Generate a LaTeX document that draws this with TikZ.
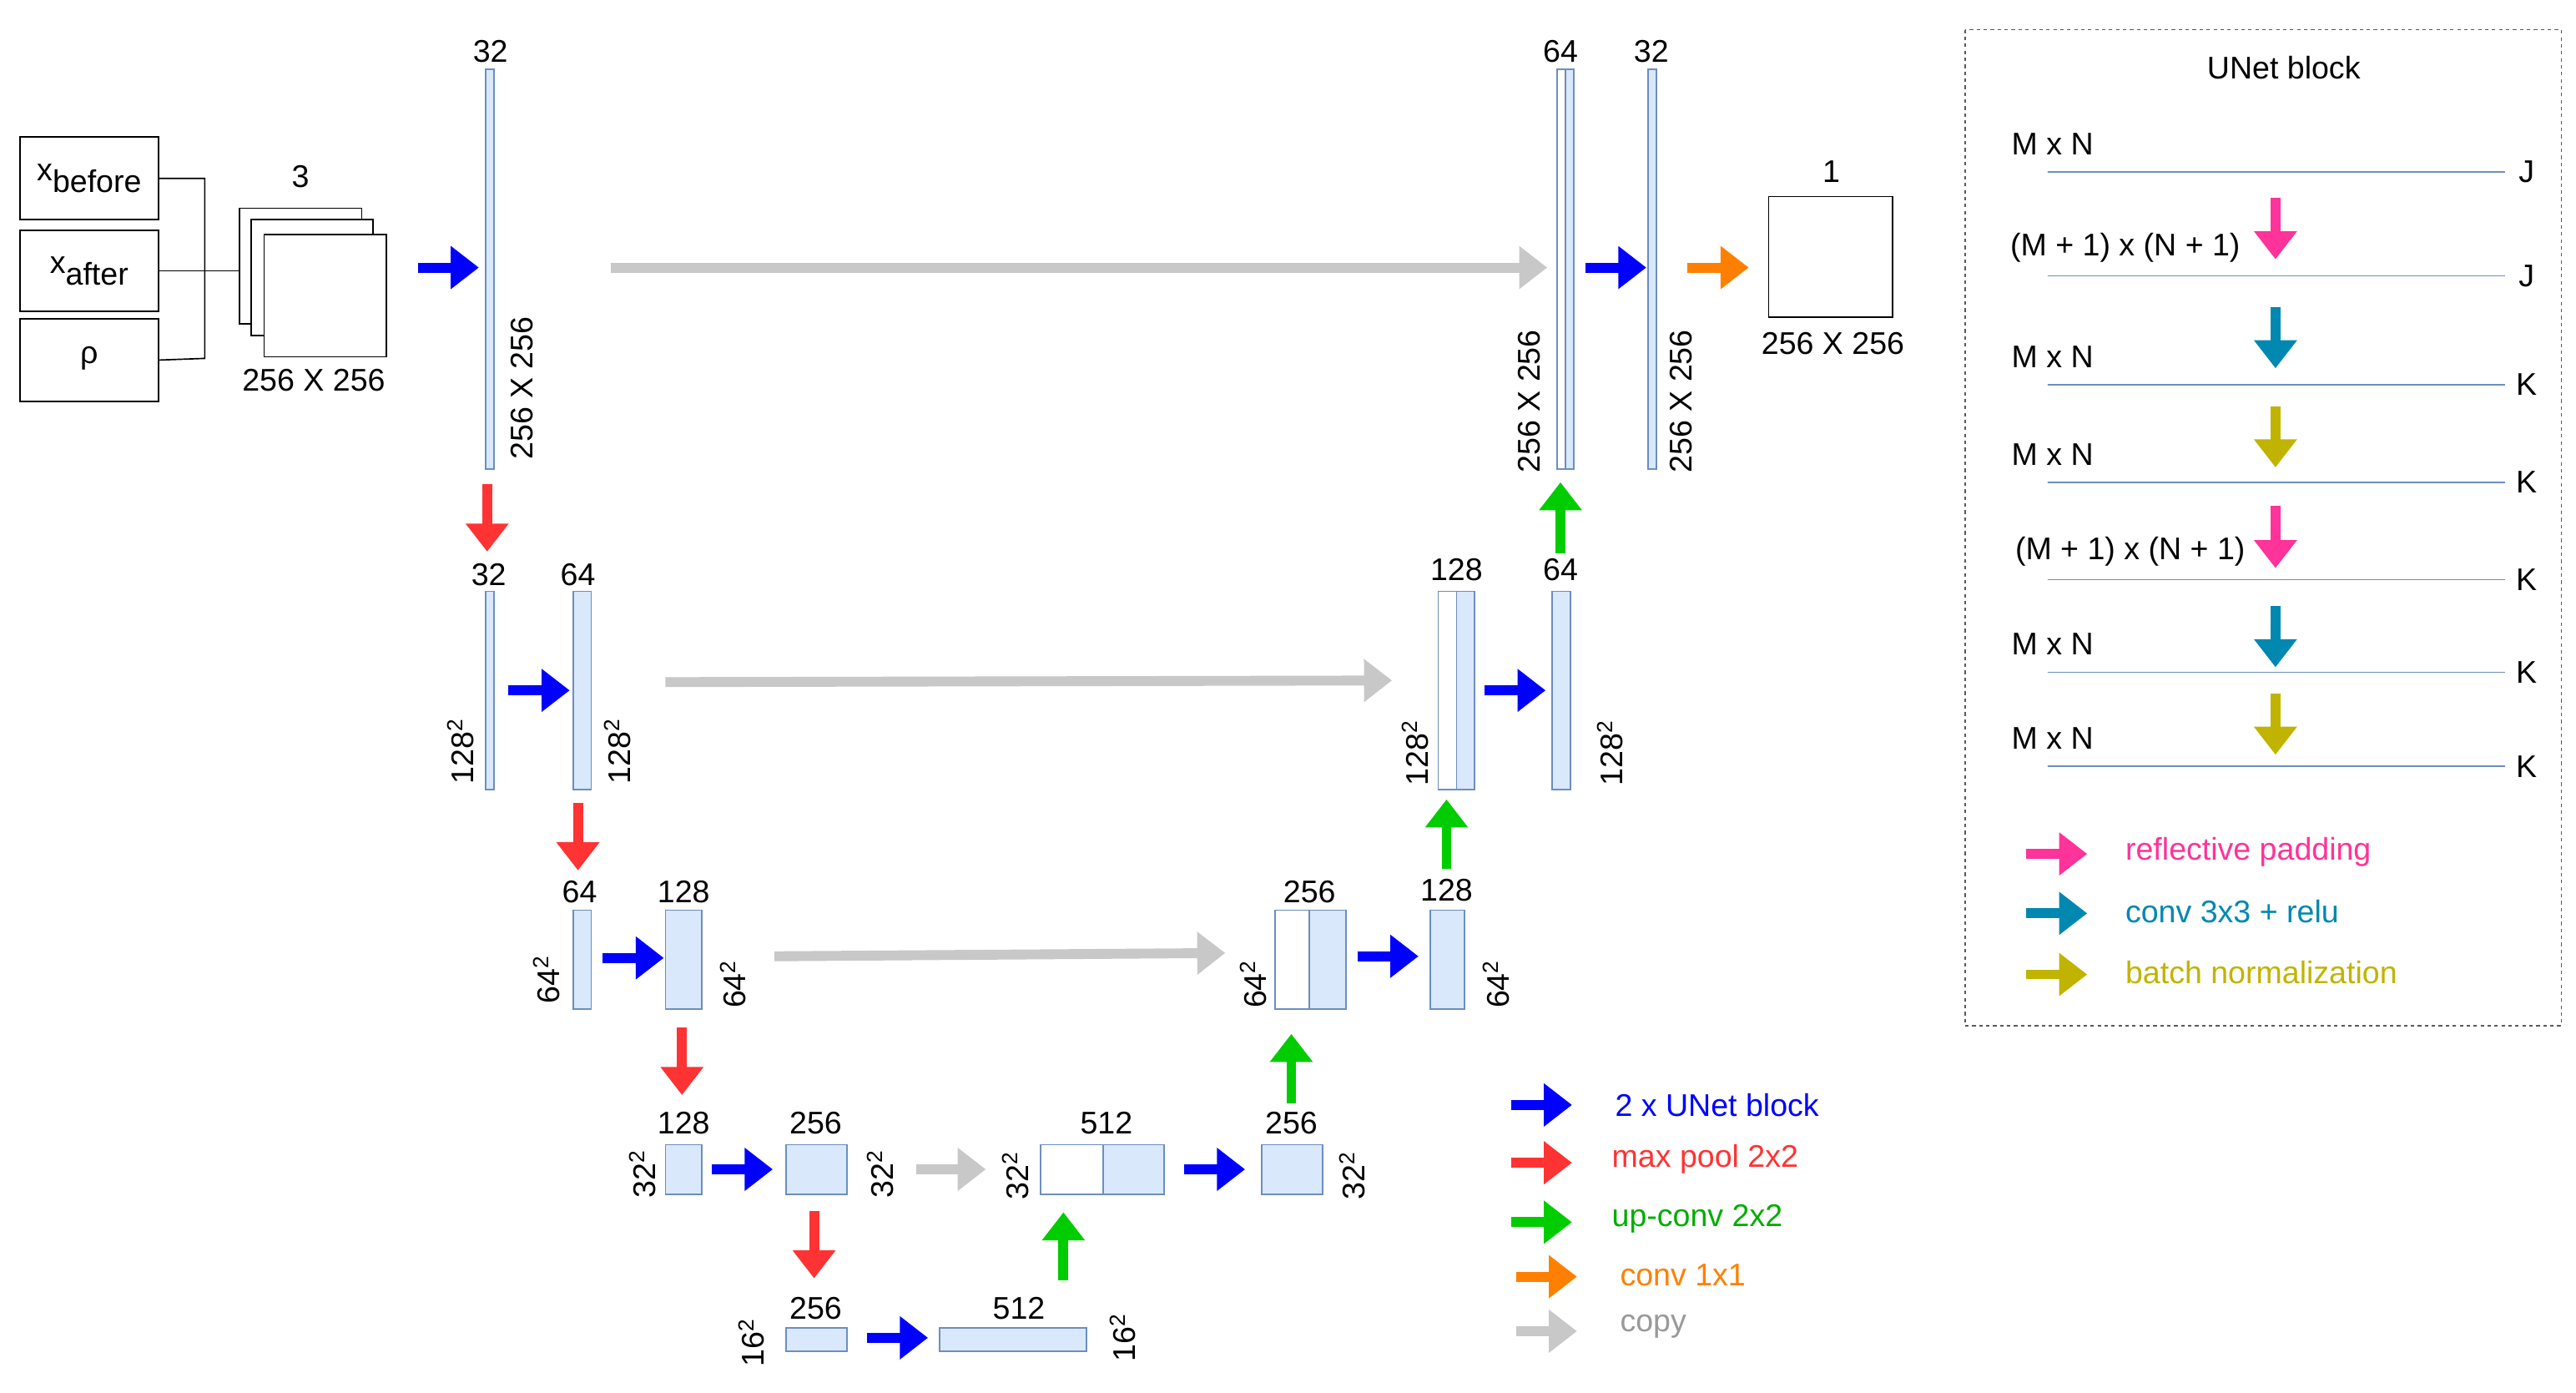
\documentclass[tikz,border=0pt]{standalone}
\usepackage{fontspec}
\setmainfont{Liberation Sans}
\usetikzlibrary{arrows.meta}
\definecolor{bfill}{HTML}{DAE8FC}
\definecolor{bdraw}{HTML}{6C8EBF}
\definecolor{cblue}{HTML}{0000FF}
\definecolor{cred}{HTML}{FF3333}
\definecolor{cgreen}{HTML}{00CC00}
\definecolor{corange}{HTML}{FF8000}
\definecolor{cgray}{HTML}{C8C8C8}
\definecolor{cpink}{HTML}{FF3399}
\definecolor{cteal}{HTML}{0088B0}
\definecolor{colive}{HTML}{C0B400}
\newcommand\myblk[6][bfill]{\node[draw=bdraw,line width=1.2pt,fill=#1,inner sep=0pt,minimum width={(#5-#3)*0.05cm},minimum height={(#6-#4)*0.05cm}] (#2) at ({(#3+#5)/2},{(#4+#6)/2}) {};}
\newcommand\myfarr[3]{\draw[fat,#1] #2 -- #3;}
\begin{document}
\begin{tikzpicture}[x=0.05cm,y=-0.05cm,
  fat/.style={line width=0.3cm,-{Triangle[length=0.85cm,width=1.25cm]}},
  lbl/.style={font=\fontsize{27}{30}\selectfont,inner sep=0pt},
  rl/.style={lbl,rotate=90},
  box/.style={draw,line width=1.2pt,fill=white,inner sep=0pt},
  leg/.style={lbl,anchor=west}]
\fill[white] (0,0) rectangle (1560,843);
\useasboundingbox (0,0) rectangle (1560,843);
% inputs
\node[box,minimum width=84*0.05cm,minimum height=50*0.05cm] (xb) at (54,108) {};
\node[box,minimum width=84*0.05cm,minimum height=49*0.05cm] (xa) at (54,164) {};
\node[box,minimum width=84*0.05cm,minimum height=50*0.05cm] (rho) at (54,218) {};
\node[lbl] at (54,108) {\raisebox{0.4ex}{x}\raisebox{-0.3ex}{before}};
\node[lbl] at (54,164) {\raisebox{0.4ex}{x}\raisebox{-0.3ex}{after}};
\node[lbl] at (54,217) {ρ};
\node[box,minimum width=74*0.05cm,minimum height=70*0.05cm] (s1) at (182,161) {};
\node[box,minimum width=74*0.05cm,minimum height=70*0.05cm] (s2) at (189,168) {};
\node[box,minimum width=74*0.05cm,minimum height=74*0.05cm] (s3) at (197,179) {};
\draw[line width=1.2pt] (xb.east) -- (124,108) -- (124,217) -- (rho.east);
\draw[line width=1.2pt] (xa.east) -- (s1.west|-xa.east);
\node[lbl] at (182,107) {3};
\node[lbl] at (190,230) {256 X 256};
% level 1
\myfarr{cblue}{(253,162)}{(290,162)}
\myblk{b1}{294}{42}{299}{284}
\node[lbl] at (297,31) {32};
\node[rl] at (316,235) {256 X 256};
\myfarr{cgray}{(370,162)}{(937,162)}
\myfarr{cred}{(295,293)}{(295,334)}
% level 2
\node[lbl] at (296,348) {32};
\myblk{b2a}{294}{358}{299}{478}
\node[rl] at (279,455) {128\textsuperscript{2}};
\myfarr{cblue}{(308,418)}{(345,418)}
\myblk{b2b}{347}{358}{358}{478}
\node[lbl] at (350,348) {64};
\node[rl] at (374,455) {128\textsuperscript{2}};
\myfarr{cgray}{(403,413)}{(843,412)}
\myfarr{cred}{(350,486)}{(350,527)}
% level 3
\node[lbl] at (351,540) {64};
\myblk{b3a}{347}{551}{358}{611}
\node[rl] at (331,593) {64\textsuperscript{2}};
\myfarr{cblue}{(365,580)}{(402,580)}
\myblk{b3b}{403}{551}{425}{611}
\node[lbl] at (414,540) {128};
\node[rl] at (444,596) {64\textsuperscript{2}};
\myfarr{cgray}{(469,579)}{(742,577)}
\myfarr{cred}{(413,622)}{(413,663)}
% level 4
\node[lbl] at (414,680) {128};
\myblk{b4a}{403}{693}{425}{723}
\node[rl] at (389,711) {32\textsuperscript{2}};
\myfarr{cblue}{(431,708)}{(468,708)}
\myblk{b4b}{476}{693}{513}{723}
\node[lbl] at (494,680) {256};
\node[rl] at (533,711) {32\textsuperscript{2}};
\myfarr{cgray}{(555,708)}{(597,708)}
\node[rl] at (615,712) {32\textsuperscript{2}};
\myblk[white]{b4c}{630}{693}{668}{723}
\myblk{b4d}{668}{693}{705}{723}
\node[lbl] at (670,680) {512};
\myfarr{cblue}{(717,708)}{(754,708)}
\myblk{b4e}{764}{693}{801}{723}
\node[lbl] at (782,680) {256};
\node[rl] at (819,712) {32\textsuperscript{2}};
\myfarr{cred}{(493,733)}{(493,774)}
% level 5
\node[lbl] at (494,792) {256};
\myblk{b5a}{476}{804}{513}{818}
\node[rl] at (455,813) {16\textsuperscript{2}};
\myfarr{cblue}{(525,810)}{(562,810)}
\myblk{b5b}{569}{804}{658}{818}
\node[lbl] at (617,792) {512};
\node[rl] at (680,810) {16\textsuperscript{2}};
\myfarr{cgreen}{(644,775)}{(644,734)}
% up level 3
\myfarr{cgreen}{(782,668)}{(782,626)}
\myblk[white]{u3a}{772}{551}{793}{611}
\myblk{u3b}{793}{551}{815}{611}
\node[lbl] at (793,540) {256};
\node[rl] at (759,596) {64\textsuperscript{2}};
\myfarr{cblue}{(822,579)}{(859,579)}
\myblk{u3c}{866}{551}{887}{611}
\node[lbl] at (876,539) {128};
\node[rl] at (906,596) {64\textsuperscript{2}};
\myfarr{cgreen}{(876,526)}{(876,484)}
% up level 2
\myblk[white]{u2a}{871}{358}{882}{478}
\myblk{u2b}{882}{358}{893}{478}
\node[lbl] at (882,345) {128};
\node[rl] at (857,456) {128\textsuperscript{2}};
\myfarr{cblue}{(899,418)}{(936,418)}
\myblk{u2c}{940}{358}{951}{478}
\node[lbl] at (945,345) {64};
\node[rl] at (975,456) {128\textsuperscript{2}};
\myfarr{cgreen}{(945,335)}{(945,292)}
% up level 1
\myblk[white]{u1a}{943}{42}{948}{284}
\myblk{u1b}{948}{42}{953}{284}
\node[lbl] at (945,31) {64};
\node[rl] at (926,243) {256 X 256};
\myfarr{cblue}{(960,162)}{(997,162)}
\myblk{u1c}{998}{42}{1003}{284}
\node[lbl] at (1000,31) {32};
\node[rl] at (1018,243) {256 X 256};
\myfarr{corange}{(1022,162)}{(1059,162)}
\node[box,minimum width=75*0.05cm,minimum height=73*0.05cm] (out) at (1108.5,155.5) {};
\node[lbl] at (1109,104) {1};
\node[lbl] at (1110,208) {256 X 256};
% legend
\myfarr{cblue}{(915,669)}{(952,669)}
\node[leg,text=cblue] at (978,669) {2 x UNet block};
\myfarr{cred}{(915,704)}{(952,704)}
\node[leg,text=cred] at (976,702) {max pool 2x2};
\myfarr{cgreen}{(915,740)}{(952,740)}
\node[leg,text=cgreen!85!black] at (976,738) {up-conv 2x2};
\myfarr{corange}{(918,773)}{(955,773)}
\node[leg,text=corange] at (981,772) {conv 1x1};
\myfarr{cgray}{(918,806)}{(955,806)}
\node[leg,text=gray!80] at (981,803) {copy};
% UNet block panel
\draw[dashed,line width=1pt,gray!70!black] (1190,18) rectangle (1551,621);
\node[lbl] at (1383,41) {UNet block};
\foreach \y/\t/\tx/\e in {104/M x N/1243/J,167/(M + 1) x (N + 1)/1287/J,233/M x N/1243/K,292/M x N/1243/K,351/(M + 1) x (N + 1)/1290/K,407/M x N/1243/K,464/M x N/1243/K}{
  \myblk{r\y}{1240}{\y-4}{1517}{\y+4}
  \node[lbl] at (\tx,\y-17) {\t};
  \node[lbl] at (1530,\y) {\e};
}
\myfarr{cpink}{(1378,120)}{(1378,157)}
\myfarr{cteal}{(1378,186)}{(1378,223)}
\myfarr{colive}{(1378,246)}{(1378,283)}
\myfarr{cpink}{(1378,306)}{(1378,344)}
\myfarr{cteal}{(1378,367)}{(1378,404)}
\myfarr{colive}{(1378,420)}{(1378,457)}
\myfarr{cpink}{(1227,517)}{(1264,517)}
\node[leg,text=cpink] at (1287,516) {reflective padding};
\myfarr{cteal}{(1227,553)}{(1264,553)}
\node[leg,text=cteal] at (1287,552) {conv 3x3 + relu};
\myfarr{colive}{(1227,590)}{(1264,590)}
\node[leg,text=colive] at (1287,589) {batch normalization};
\end{tikzpicture}
\end{document}
